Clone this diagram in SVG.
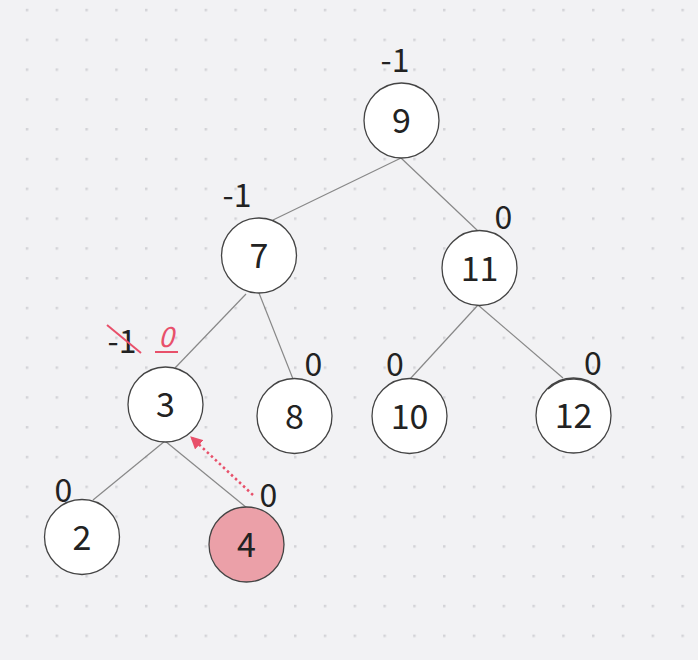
<svg xmlns="http://www.w3.org/2000/svg" width="698" height="660" viewBox="0 0 698 660">
  <defs>
    <pattern id="grid" patternUnits="userSpaceOnUse" x="25.8" y="8.8" width="29.8" height="29.8">
      <rect x="0" y="0" width="2.5" height="2.5" fill="#d3d3d7"/>
    </pattern>
    <marker id="arr" viewBox="0 0 10 10" refX="8" refY="5" markerWidth="5" markerHeight="5" orient="auto" markerUnits="strokeWidth">
      <path d="M0,0 L10,5 L0,10 z" fill="#e8506a"/>
    </marker>
    <style>
      .node circle { fill: #ffffff; stroke: #444; stroke-width: 1.3; }
      .node text { font-family: "Noto Sans CJK SC", "Noto Sans", sans-serif; font-size: 34px; fill: #222; text-anchor: middle; }
      .bal { font-family: "Noto Sans CJK SC", "Noto Sans", sans-serif; font-size: 32px; fill: #222; text-anchor: middle; }
      .edges line { stroke: #888; stroke-width: 1.2; }
    </style>
  </defs>
  <rect width="698" height="660" fill="#f2f2f4"/>
  <rect width="698" height="660" fill="url(#grid)"/>

  <g id="connectors" class="edges">
    <line x1="401" y1="158" x2="273" y2="220"/>
    <line x1="401" y1="158" x2="478" y2="231"/>
    <line x1="246" y1="294" x2="175" y2="368"/>
    <line x1="259" y1="293" x2="293" y2="379"/>
    <line x1="478" y1="305" x2="410" y2="379"/>
    <line x1="478" y1="305" x2="563" y2="378"/>
    <line x1="165" y1="441" x2="93" y2="500"/>
    <line x1="165" y1="441" x2="247" y2="508"/>
    <line x1="253" y1="495" x2="192" y2="438" stroke="#e8506a" stroke-width="2.5" stroke-dasharray="2.5 3" marker-end="url(#arr)" style="stroke:#e8506a;stroke-width:2.5"/>
  </g>

  <g id="node9" class="node"><circle cx="401.5" cy="120.5" r="37.5"/><text x="401.5" y="133">9</text></g>
  <g id="node7" class="node"><circle cx="259" cy="255.5" r="37.5"/><text x="259" y="268">7</text></g>
  <g id="node11" class="node"><circle cx="479.5" cy="268" r="37.5"/><text x="479.5" y="280.5">11</text></g>
  <g id="node3" class="node"><circle cx="165.5" cy="404.5" r="37.5"/><text x="165.5" y="417">3</text></g>
  <g id="node8" class="node"><circle cx="294.5" cy="416" r="37.5"/><text x="294.5" y="428.5">8</text></g>
  <g id="node10" class="node"><circle cx="409.5" cy="416" r="37.5"/><text x="409.5" y="428.5">10</text></g>
  <g id="node12" class="node"><circle cx="573.5" cy="415.5" r="37.5"/><path d="M548,389 A37.5,37.5 0 0 1 600,390" fill="none" stroke="#444" stroke-width="1.5"/><text x="573.5" y="428">12</text></g>
  <g id="node2" class="node"><circle cx="82" cy="537" r="37.5"/><text x="82" y="549.5">2</text></g>
  <g id="node4" class="node"><circle cx="246.5" cy="544.5" r="37.5" style="fill:#eba0a8"/><text x="246.5" y="557">4</text></g>

  <g id="balances">
    <text class="bal" x="395" y="72">-1</text>
    <text class="bal" x="237" y="207">-1</text>
    <text class="bal" x="503.5" y="229">0</text>
    <text class="bal" x="122" y="353">-1</text>
    <line x1="107" y1="325" x2="141" y2="353" stroke="#e8506a" stroke-width="2"/>
    <text x="166" y="347" font-family="'Noto Sans CJK SC', 'Noto Sans', sans-serif" font-size="28" font-style="italic" fill="#e8506a" text-anchor="middle">0</text>
    <line x1="155" y1="352" x2="178" y2="352" stroke="#e8506a" stroke-width="2"/>
    <text class="bal" x="313.5" y="376">0</text>
    <text class="bal" x="395" y="376">0</text>
    <text class="bal" x="593" y="375">0</text>
    <text class="bal" x="63.5" y="502">0</text>
    <text class="bal" x="268.5" y="507">0</text>
  </g>
</svg>
